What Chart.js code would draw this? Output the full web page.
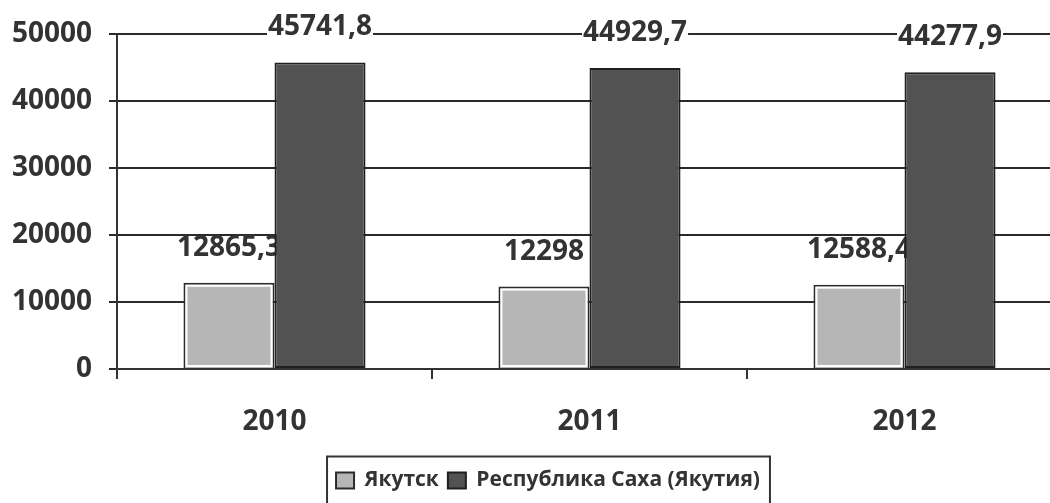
<!DOCTYPE html>
<html><head><meta charset="utf-8">
<script src="https://cdn.jsdelivr.net/npm/chart.js@4/dist/chart.umd.min.js"></script>
<style>
html,body{margin:0;padding:0;background:#fff;overflow:hidden;width:1050px;height:503px}
#wrap{position:relative;width:1062px;height:503px}
</style></head><body>
<div id="wrap"><canvas id="c"></canvas></div>
<script>
const categories = ['2010', '2011', '2012'];
const seriesNames = ['Якутск', 'Республика Саха (Якутия)'];
const yakutskValues = [12865.3, 12298, 12588.4];
const republicValues = [45741.8, 44929.7, 44277.9];
const yTickValues = [0, 10000, 20000, 30000, 40000, 50000];
const yTickLabels = ['0', '10000', '20000', '30000', '40000', '50000'];

const FONT = "'Open Sans', sans-serif";
const TEXT = '#333333';
const fmt = v => String(v).replace('.', ',');

const valueLabels = {
  id: 'valueLabels',
  beforeDatasetsDraw(chart) {
    const ctx = chart.ctx;
    ctx.save();
    ctx.font = 'bold 28px ' + FONT;
    ctx.textAlign = 'center';
    ctx.textBaseline = 'middle';
    chart.data.datasets.forEach((ds, di) => {
      const meta = chart.getDatasetMeta(di);
      meta.data.forEach((bar, i) => {
        const txt = fmt(ds.data[i]);
        const y = bar.y - 35;
        const w = ctx.measureText(txt).width;
        ctx.fillStyle = '#ffffff';
        ctx.fillRect(bar.x - w / 2 - 1, y - 11, w + 2, 22);
        ctx.fillStyle = TEXT;
        ctx.fillText(txt, bar.x, y);
      });
    });
    ctx.restore();
  }
};

const innerBorder = {
  id: 'innerBorder',
  afterDatasetDraw(chart, args) {
    if (args.index !== 0) return;
    const ctx = chart.ctx;
    ctx.save();
    ctx.strokeStyle = '#ffffff';
    ctx.lineWidth = 2;
    args.meta.data.forEach(bar => {
      const p = bar.getProps(['x', 'y', 'base', 'width'], true);
      const l = p.x - p.width / 2 + 3, r = p.x + p.width / 2 - 3;
      const t = p.y + 3, b = p.base - 2;
      ctx.strokeRect(l, t, r - l, b - t);
    });
    ctx.restore();
  }
};

const legendShift = {
  id: 'legendShift',
  afterLayout(chart) {
    const lg = chart.legend;
    if (lg) { lg.left += 17; lg.right += 17; }
  }
};

const legendFrame = {
  id: 'legendFrame',
  afterDraw(chart) {
    const lg = chart.legend;
    if (!lg || !lg.legendHitBoxes || !lg.legendHitBoxes.length) return;
    const hb = lg.legendHitBoxes;
    const left = hb[0].left - 9;
    const last = hb[hb.length - 1];
    const right = last.left + last.width + 10;
    const cy = hb[0].top + hb[0].height / 2;
    const top = cy - 24;
    const ctx = chart.ctx;
    ctx.save();
    ctx.strokeStyle = '#333333';
    ctx.lineWidth = 2;
    ctx.strokeRect(left, top, right - left, chart.height + 20 - top);
    ctx.restore();
  }
};

new Chart(document.getElementById('c'), {
  type: 'bar',
  data: {
    labels: categories,
    datasets: [
      {
        label: seriesNames[0],
        data: yakutskValues,
        backgroundColor: '#b6b6b6',
        borderColor: '#2b2b2b',
        borderWidth: 2,
        borderSkipped: 'start',
        categoryPercentage: 0.578,
        barPercentage: 1.0
      },
      {
        label: seriesNames[1],
        data: republicValues,
        backgroundColor: '#525252',
        borderColor: '#1f1f1f',
        borderWidth: 2,
        borderSkipped: false,
        categoryPercentage: 0.578,
        barPercentage: 1.0
      }
    ]
  },
  options: {
    responsive: true,
    maintainAspectRatio: false,
    animation: false,
    layout: { padding: { top: 34, bottom: 2, left: 0, right: 0 } },
    plugins: {
      legend: {
        position: 'bottom',
        labels: {
          font: { family: FONT, size: 21, weight: 'bold' },
          color: TEXT,
          boxWidth: 18,
          boxHeight: 16,
          padding: 9
        }
      },
      tooltip: { enabled: false }
    },
    scales: {
      x: {
        afterFit(scale) { scale.height = 92; },
        grid: { display: true, drawOnChartArea: false, drawTicks: true, tickLength: 10, color: '#333333', lineWidth: 2, offset: true },
        border: { display: true, color: '#333333', width: 2 },
        ticks: { font: { family: FONT, size: 28, weight: 'bold' }, color: TEXT, padding: 26, maxRotation: 0 }
      },
      y: {
        min: 0,
        max: 50000,
        afterFit(scale) { scale.width = 117; },
        grid: { color: '#2a2a2a', lineWidth: 2, tickLength: 8, drawTicks: true },
        border: { display: true, color: '#333333', width: 2 },
        ticks: {
          stepSize: 10000,
          padding: 17,
          font: { family: FONT, size: 28, weight: 'bold' },
          color: TEXT,
          callback: v => { const k = yTickValues.indexOf(v); return k >= 0 ? yTickLabels[k] : ''; }
        }
      }
    }
  },
  plugins: [valueLabels, innerBorder, legendShift, legendFrame]
});
</script>
</body></html>
